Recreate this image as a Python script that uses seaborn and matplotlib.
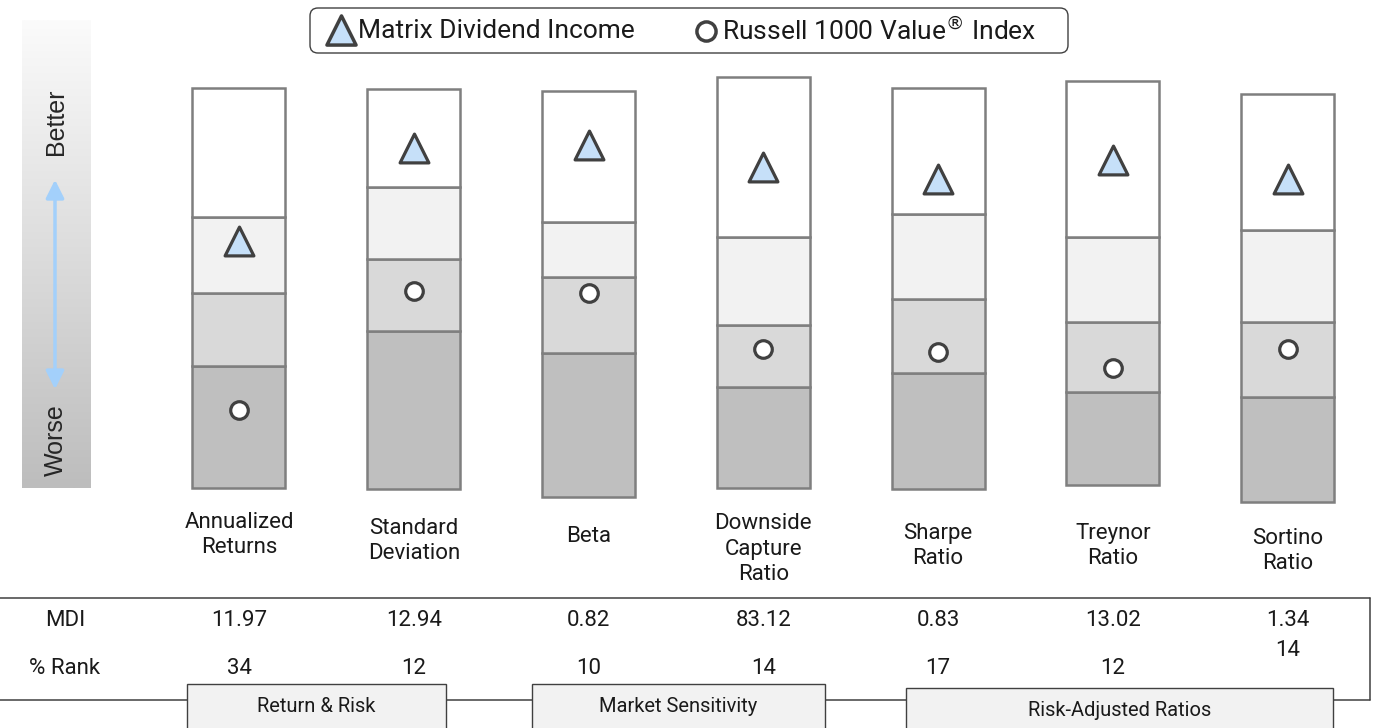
# Quartile ranking chart: MDI vs Russell 1000 Value

import numpy as np
import seaborn as sns
import matplotlib.pyplot as plt
from matplotlib.patches import FancyBboxPatch, Rectangle
from matplotlib.colors import LinearSegmentedColormap
from matplotlib import transforms

# Data (score scale 0-100, higher = better)
metrics = ["Annualized\nReturns", "Standard\nDeviation", "Beta", "Downside\nCapture\nRatio",
           "Sharpe\nRatio", "Treynor\nRatio", "Sortino\nRatio"]
q_bottom = [5.0, 4.8, 3.0, 5.0, 4.8, 5.7, 1.8]
q3_line = [32.7, 40.7, 35.7, 28.0, 31.1, 26.8, 25.7]
median_line = [49.3, 57.0, 53.0, 42.0, 48.0, 42.7, 42.7]
q1_line = [66.6, 73.4, 65.5, 62.0, 67.3, 62.0, 63.6]
q_top = [95.9, 95.7, 95.2, 98.4, 95.9, 97.5, 94.5]
fund_score = [61.1, 82.3, 83.0, 78.0, 75.2, 79.5, 75.2]
index_score = [22.7, 49.8, 49.3, 36.6, 35.9, 32.3, 36.6]

mdi_values = ["11.97", "12.94", "0.82", "83.12", "0.83", "13.02", "1.34"]
pct_rank = ["34", "12", "10", "14", "17", "12", "14"]
groups = ["Return & Risk", "Market Sensitivity", "Risk-Adjusted Ratios"]

fund_name = "Matrix Dividend Income"
index_name = "Russell 1000 Value$^{\u00ae}$ Index"

sns.set_style("white")
plt.rcParams['font.family'] = ['Roboto', 'DejaVu Sans']

fig = plt.figure(figsize=(13.75, 7.28), dpi=100)

# background axes in pixel coordinates
bg = fig.add_axes([0, 0, 1, 1])
bg.set_xlim(0, 1375)
bg.set_ylim(728, 0)
bg.axis('off')

# main axes for the bars
ax = fig.add_axes([151.6 / 1375, (728 - 510) / 728, 1223.5 / 1375, 440 / 728])
ax.patch.set_alpha(0)

edge = "#7f7f7f"
layers = [
    (q_bottom, q3_line, "#bfbfbf"),
    (q3_line, median_line, "#d9d9d9"),
    (median_line, q1_line, "#f2f2f2"),
    (q1_line, q_top, "#ffffff"),
]
for lo, hi, col in layers:
    heights = np.array(hi) - np.array(lo)
    sns.barplot(x=metrics, y=heights, bottom=lo, color=col, edgecolor=edge,
                linewidth=1.8, width=0.532, errorbar=None, saturation=1, ax=ax)

sns.scatterplot(x=metrics, y=index_score, marker="o", s=160, color="white",
                edgecolor="#404040", linewidth=2.3, ax=ax, zorder=5)
sns.scatterplot(x=metrics, y=fund_score, marker="^", s=430, color="#c6e0f9",
                edgecolor="#404040", linewidth=2.3, ax=ax, zorder=6)

ax.set_xlim(-0.5, 6.5)
ax.set_ylim(0, 100)
ax.axis('off')

# x in category units, y in pixels
trans = transforms.blended_transform_factory(ax.transData, bg.transData)
label_y = [535, 541, 537, 549, 546, 546, 551]
for i, name in enumerate(metrics):
    ax.text(i, label_y[i], name, transform=trans, ha='center', va='center', fontsize=16,
            linespacing=1.3, color="#1a1a1a")

# table
line_kw = dict(color="#404040", lw=1.1)
bg.plot([0, 1370], [598, 598], **line_kw)
bg.plot([1370, 1370], [598, 700], **line_kw)
bg.plot([0, 1370], [700, 700], **line_kw)
bg.text(65, 620, "MDI", ha='center', va='center', fontsize=16, color="#1a1a1a")
bg.text(65, 668, "% Rank", ha='center', va='center', fontsize=16, color="#1a1a1a")
for i, (v, r) in enumerate(zip(mdi_values, pct_rank)):
    ax.text(i, 620, v, transform=trans, ha='center', va='center', fontsize=16, color="#1a1a1a")
    ry = 650 if i == len(pct_rank) - 1 else 668
    ax.text(i, ry, r, transform=trans, ha='center', va='center', fontsize=16, color="#1a1a1a")

boxes = [(187, 446, 684), (532, 825, 684), (906, 1333, 688)]
for (x0, x1, y0), g in zip(boxes, groups):
    bg.add_patch(Rectangle((x0, y0), x1 - x0, 60, facecolor="#f2f2f2",
                           edgecolor="#404040", lw=1.0, zorder=3))
    bg.text((x0 + x1) / 2, y0 + 23, g, ha='center', va='center', fontsize=14.5,
            color="#1a1a1a", zorder=4)

# better / worse gradient
cmap = LinearSegmentedColormap.from_list("bw", ["#fbfbfb", "#bdbdbd"])
grad = np.linspace(0, 1, 256).reshape(-1, 1)
bg.imshow(grad, extent=[22, 91, 488, 20], cmap=cmap, aspect='auto', zorder=1)
bg.text(56, 122, "Better", rotation=90, ha='center', va='center', fontsize=18,
        family=['Liberation Sans', 'DejaVu Sans'], zorder=2)
bg.text(56, 440, "Worse", rotation=90, ha='center', va='center', fontsize=18,
        family=['Liberation Sans', 'DejaVu Sans'], zorder=2)
bg.annotate("", xy=(55, 177), xytext=(55, 392),
            arrowprops=dict(arrowstyle="<|-|>,head_length=1.1,head_width=0.55",
                            color="#a3d0fb", lw=2.5), zorder=2)

# legend
bg.add_patch(FancyBboxPatch((310, 8), 758, 45, boxstyle="round,pad=0,rounding_size=8",
                            facecolor="white", edgecolor="#404040", lw=1.0))
bg.scatter([341], [30], marker="^", s=440, color="#c6e0f9", edgecolor="#404040",
           linewidth=2.5, zorder=3)
bg.text(358, 31, fund_name, ha='left', va='center', fontsize=19, color="#1a1a1a")
bg.scatter([706], [31], marker="o", s=190, color="white", edgecolor="#404040",
           linewidth=2.5, zorder=3)
bg.text(722, 31, index_name, ha='left', va='center', fontsize=19, color="#1a1a1a")

fig.savefig("out.png", dpi=100)
